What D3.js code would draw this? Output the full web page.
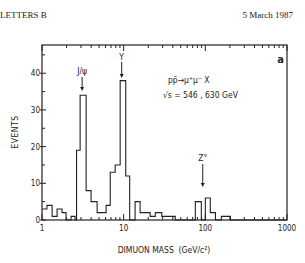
<!DOCTYPE html>
<html lang="en">
<head>
<meta charset="UTF-8">
<script src="https://d3js.org/d3.v7.min.js"></script>
<title>Dimuon mass</title>
<style>
body {
  margin: 0;
  background: white;
}
text {
  font-family: "Liberation Sans Narrow", "DejaVu Sans Condensed", "Liberation Sans", sans-serif;
  fill: #222;
}
.head {
  font-family: "Liberation Serif", "DejaVu Serif", serif;
  font-size: 9px;
}
</style>
</head>
<body>
<div id="chart"></div>
<script>

// histogram bins (edges in GeV/c^2, counts per bin)
var binEdges = [1.0, 1.15, 1.33, 1.53, 1.76, 1.97, 2.27, 2.54, 2.65, 2.93, 3.47,
                3.99, 4.73, 6.10, 6.85, 7.87, 9.06, 10.6, 11.85, 13.8, 15.9,
                21.1, 24.4, 29.3, 42.8, 75.4, 82, 89.3, 100, 115, 133, 157, 203, 1000];
var counts = [3, 4, 1, 3, 2, 0, 1, 0, 19, 34,
              8, 5, 2, 4, 13, 15, 38, 12, 0, 5,
              2, 1, 2, 1, 0, 5, 5, 0, 6, 2, 0, 1, 0];

var xTickValues = [1, 10, 100, 1000];
var yTickValues = [0, 10, 20, 30, 40];

// resonance markers
var peakNames = ["J/\u03c8", "\u03a5", "Z\u00b0"];
var peakMass = [3.1, 9.46, 93];
var peakLabelY = [74, 60, 161];
var arrowTop = [77, 62, 164];
var arrowTip = [91, 78, 187];

var W = 305, H = 263;
var margin = {top: 45, right: 18, bottom: 43, left: 42};

var svg = d3.select("#chart").append("svg")
    .attr("width", W)
    .attr("height", H);

var x = d3.scaleLog().domain([1, 1000]).range([margin.left, W - margin.right]);
var y = d3.scaleLinear().domain([0, 47.7]).range([H - margin.bottom, margin.top]);

// header line of the journal page
svg.append("text").attr("class", "head").attr("x", 0).attr("y", 18).text("LETTERS B");
svg.append("text").attr("class", "head").attr("x", 293).attr("y", 18)
    .attr("text-anchor", "end").text("5 March 1987");

// histogram as step outline
var pts = [];
counts.forEach(function(c, i) {
  pts.push([x(binEdges[i]), y(c)]);
  pts.push([x(binEdges[i + 1]), y(c)]);
});
svg.append("path")
    .attr("d", d3.line()(pts))
    .attr("fill", "none")
    .attr("stroke", "#222")
    .attr("stroke-width", 1.1);

// frame
svg.append("rect")
    .attr("x", x(1)).attr("y", y(47.7))
    .attr("width", x(1000) - x(1)).attr("height", y(0) - y(47.7))
    .attr("fill", "none")
    .attr("stroke", "#222")
    .attr("stroke-width", 1.2);

// log ticks bottom and top, pointing inwards
var minor = [];
[1, 10, 100].forEach(function(d) {
  for (var k = 2; k <= 9; k++) minor.push(d * k);
});
var bottomY = y(0), topY = y(47.7);
var tk = svg.append("g").attr("stroke", "#222").attr("stroke-width", 1);
minor.forEach(function(v) {
  tk.append("line").attr("x1", x(v)).attr("x2", x(v)).attr("y1", bottomY).attr("y2", bottomY - 3);
  tk.append("line").attr("x1", x(v)).attr("x2", x(v)).attr("y1", topY).attr("y2", topY + 3);
});
xTickValues.forEach(function(v) {
  tk.append("line").attr("x1", x(v)).attr("x2", x(v)).attr("y1", bottomY).attr("y2", bottomY - 6);
  tk.append("line").attr("x1", x(v)).attr("x2", x(v)).attr("y1", topY).attr("y2", topY + 6);
});
svg.selectAll(".xl").data(xTickValues).enter().append("text")
    .attr("x", function(d) { return x(d); })
    .attr("y", bottomY + 11)
    .attr("text-anchor", "middle")
    .attr("font-size", 8)
    .text(function(d) { return d; });

// y ticks
yTickValues.forEach(function(v) {
  tk.append("line").attr("x1", x(1) - 2).attr("x2", x(1) + 4).attr("y1", y(v)).attr("y2", y(v));
  if (v + 5 < 47.7)
    tk.append("line").attr("x1", x(1)).attr("x2", x(1) + 3).attr("y1", y(v + 5)).attr("y2", y(v + 5));
});
svg.selectAll(".yl").data(yTickValues).enter().append("text")
    .attr("x", x(1) - 2)
    .attr("y", function(d) { return y(d) + 3; })
    .attr("text-anchor", "end")
    .attr("font-size", 8)
    .text(function(d) { return d; });

// axis titles
svg.append("text")
    .attr("transform", "translate(18,132) rotate(-90)")
    .attr("text-anchor", "middle")
    .attr("font-size", 8.5)
    .attr("letter-spacing", 0.5)
    .text("EVENTS");
svg.append("text")
    .attr("x", 164).attr("y", 253)
    .attr("text-anchor", "middle")
    .attr("font-size", 8.5)
    .attr("xml:space", "preserve")
    .text("DIMUON MASS  (GeV/c\u00b2)");

// panel letter and reaction text
svg.append("text")
    .attr("x", 284).attr("y", 63)
    .attr("text-anchor", "end")
    .attr("font-family", "Liberation Sans, sans-serif")
    .attr("font-weight", "bold")
    .attr("font-size", 11)
    .text("a");
svg.append("text")
    .attr("x", 168).attr("y", 83)
    .attr("font-size", 8.5)
    .text("pp\u0304\u2192\u03bc\u207a\u03bc\u207b X");
svg.append("text")
    .attr("x", 163).attr("y", 98)
    .attr("font-size", 8.5)
    .attr("xml:space", "preserve")
    .text("\u221as = 546 , 630 GeV");

// resonance arrows
peakNames.forEach(function(n, i) {
  var px = x(peakMass[i]);
  svg.append("text")
      .attr("x", px).attr("y", peakLabelY[i])
      .attr("text-anchor", "middle")
      .attr("font-size", 8.5)
      .text(n);
  svg.append("line")
      .attr("x1", px).attr("x2", px)
      .attr("y1", arrowTop[i]).attr("y2", arrowTip[i] - 3)
      .attr("stroke", "#222").attr("stroke-width", 1);
  svg.append("path")
      .attr("d", "M" + (px - 2) + "," + (arrowTip[i] - 4) + "L" + (px + 2) + "," + (arrowTip[i] - 4) + "L" + px + "," + arrowTip[i] + "Z")
      .attr("fill", "#222");
});

</script>
</body>
</html>
